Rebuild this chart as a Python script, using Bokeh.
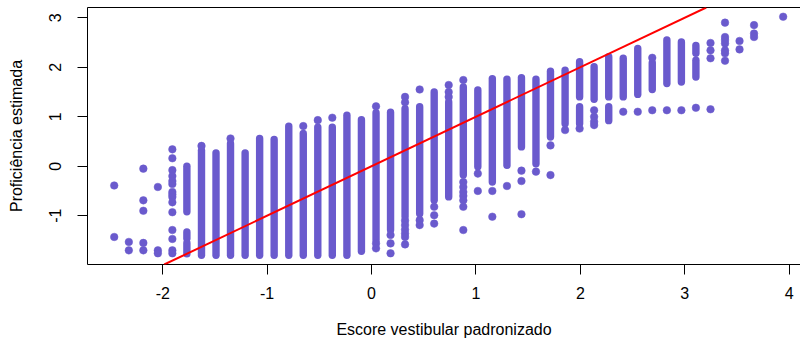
from bokeh.plotting import figure
from bokeh.models import ColumnDataSource, Range1d, LinearAxis, FixedTicker, Slope
from bokeh.embed import file_html
from bokeh.resources import INLINE

# ---- data ----
# x positions of the discrete "Escore vestibular padronizado" columns
col_x = [-2.465, -2.325, -2.186, -2.047, -1.908, -1.769, -1.629, -1.490, -1.351, -1.211,
         -1.072, -0.933, -0.793, -0.654, -0.515, -0.376, -0.236, -0.097, 0.043, 0.182,
         0.321, 0.461, 0.600, 0.739, 0.879, 1.018, 1.157, 1.297, 1.436, 1.575,
         1.714, 1.854, 1.993, 2.132, 2.272, 2.411, 2.550, 2.689, 2.829, 2.968,
         3.107, 3.247, 3.386, 3.525, 3.664, 3.943]

# dense runs of points (column index, lowest value, highest value)
run_col = [5, 5, 5, 6, 7, 8, 9, 10, 11, 12, 13, 14, 15, 16, 17, 18, 19, 20, 21, 22,
           23, 24, 25, 26, 27, 28, 29, 30, 31, 32, 32, 33, 34, 34, 35, 36, 37, 38, 39, 40, 40]
run_lo = [-0.92, -1.46, -1.77, -1.80, -1.80, -1.80, -1.80, -1.80, -1.80, -1.80, -1.80, -1.80, -1.80, -1.80, -1.72, -1.49, -1.29, -1.02, -0.96, -0.69,
          -0.62, -0.18, -0.01, -0.32, 0.02, 0.39, 0.05, 0.59, 0.86, 1.40, 0.86, 1.35, 1.40, 0.92, 1.40, 1.45, 1.55, 1.67, 1.70, 2.28, 1.80]
run_hi = [0.00, -1.33, -1.55, 0.32, 0.27, 0.46, 0.27, 0.56, 0.54, 0.81, 0.66, 0.79, 0.79, 1.03, 0.94, 1.08, 1.09, 1.16, 1.20, 1.50,
          1.30, 1.60, 1.54, 1.77, 1.76, 1.79, 1.76, 1.92, 1.94, 2.11, 1.20, 2.01, 2.21, 1.20, 2.18, 2.38, 2.09, 2.55, 2.51, 2.44, 2.14]

# isolated points (column index, value)
pt_col = [0, 0, 1, 1, 2, 2, 2, 2, 2, 3, 3, 3,
          4, 4, 4, 4, 4, 4, 4, 4, 4, 4, 4, 4, 4, 4, 4,
          6, 8, 13, 14, 15,
          18, 18, 18, 19, 19, 19,
          20, 20, 20, 20, 20, 20, 20, 20,
          21, 21, 21, 22, 22, 22, 23, 23, 23,
          24, 24, 24, 24, 24, 24, 24, 24, 25, 25, 26, 26, 27,
          28, 28, 28, 29, 30, 30, 31, 32,
          33, 33, 33, 33, 35, 36, 37, 37, 38, 39, 40,
          41, 41, 41, 41, 42, 42, 42, 42, 42, 42, 42,
          43, 43, 44, 44, 44, 45]
pt_y = [-0.39, -1.43, -1.53, -1.70, -0.05, -0.69, -0.90, -1.55, -1.70, -0.42, -1.70, -1.76,
        0.34, 0.16, -0.08, -0.20, -0.30, -0.36, -0.52, -0.57, -0.62, -0.73, -0.93, -1.29, -1.47, -1.70, -1.76,
        0.41, 0.56, 0.81, 0.93, 0.98,
        1.21, -1.56, -1.66, -1.39, -1.56, -1.76,
        1.40, 1.29, -1.10, -1.19, -1.28, -1.36, -1.43, -1.58,
        1.55, -1.09, -1.19, -0.82, -0.99, -1.16, 1.64, 1.50, 1.40,
        1.74, -0.32, -0.42, -0.52, -0.60, -0.69, -0.82, -1.29, -0.15, -0.50, -0.50, -1.02, -0.40,
        -0.09, -0.30, -0.97, -0.11, 0.42, -0.18, 0.73, 0.76,
        1.13, 1.00, 0.90, 0.83, 1.10, 1.10, 2.19, 1.13, 1.13, 1.13, 1.18,
        2.49, 2.34, 2.18, 1.15, 2.90, 2.61, 2.55, 2.48, 2.34, 2.28, 2.13,
        2.53, 2.36, 2.85, 2.68, 2.61, 3.02]

# reference line y = x
ref_intercept = 0.0
ref_slope = 1.0

x_ticks = [-2, -1, 0, 1, 2, 3, 4]
y_ticks = [-1, 0, 1, 2, 3]
x_title = "Escore vestibular padronizado"
y_title = "Proficiência estimada"

# ---- build sources ----
runs = ColumnDataSource(dict(x=[col_x[i] for i in run_col], y0=run_lo, y1=run_hi))
pts = ColumnDataSource(dict(x=[col_x[i] for i in pt_col], y=pt_y))

PT = "#6A5ACD"
FONT = "Liberation Sans"

p = figure(width=800, height=347, output_backend="svg", toolbar_location=None,
           x_range=Range1d(-2.721, 4.109), y_range=Range1d(-1.986, 3.206),
           x_axis_type=None, y_axis_type=None,
           min_border_left=87, min_border_right=0, min_border_top=7, min_border_bottom=83,
           background_fill_color="white", border_fill_color="white",
           outline_line_color=None)
p.xgrid.visible = False
p.ygrid.visible = False

p.segment(x0="x", y0="y0", x1="x", y1="y1", source=runs, line_color=PT,
          line_width=7.4, line_cap="round")
p.scatter(x="x", y="y", source=pts, size=7.6, fill_color=PT, line_color=PT, line_width=0.5)
p.add_layout(Slope(gradient=ref_slope, y_intercept=ref_intercept, line_color="#FF0000", line_width=2))


def style(ax, ticks):
    ax.axis_line_color = "black"
    ax.axis_line_width = 1
    ax.major_tick_line_color = "black"
    ax.minor_tick_line_color = None
    ax.major_tick_in = 0
    ax.major_tick_out = 10
    ax.major_label_text_font = FONT
    ax.major_label_text_font_size = "16px"
    ax.major_label_text_color = "black"
    ax.major_label_overrides = {t: str(t) for t in ticks}
    ax.axis_label_text_font = FONT
    ax.axis_label_text_font_size = "16px"
    ax.axis_label_text_font_style = "normal"
    ax.axis_label_text_color = "black"


xa = LinearAxis(ticker=FixedTicker(ticks=x_ticks), axis_label=x_title)
style(xa, x_ticks)
xa.major_label_standoff = 12
xa.axis_label_standoff = 19
p.add_layout(xa, "below")

ya = LinearAxis(ticker=FixedTicker(ticks=y_ticks), axis_label=y_title)
style(ya, y_ticks)
ya.major_label_orientation = "vertical"
ya.major_label_standoff = 16
ya.axis_label_standoff = 22
p.add_layout(ya, "left")

top = LinearAxis(ticker=FixedTicker(ticks=[]))
top.axis_line_color = "black"
top.major_tick_out = 0
top.major_tick_in = 0
top.minor_tick_line_color = None
top.major_label_text_font_size = "0px"
p.add_layout(top, "above")

open("out.html", "w").write(file_html(p, INLINE))
